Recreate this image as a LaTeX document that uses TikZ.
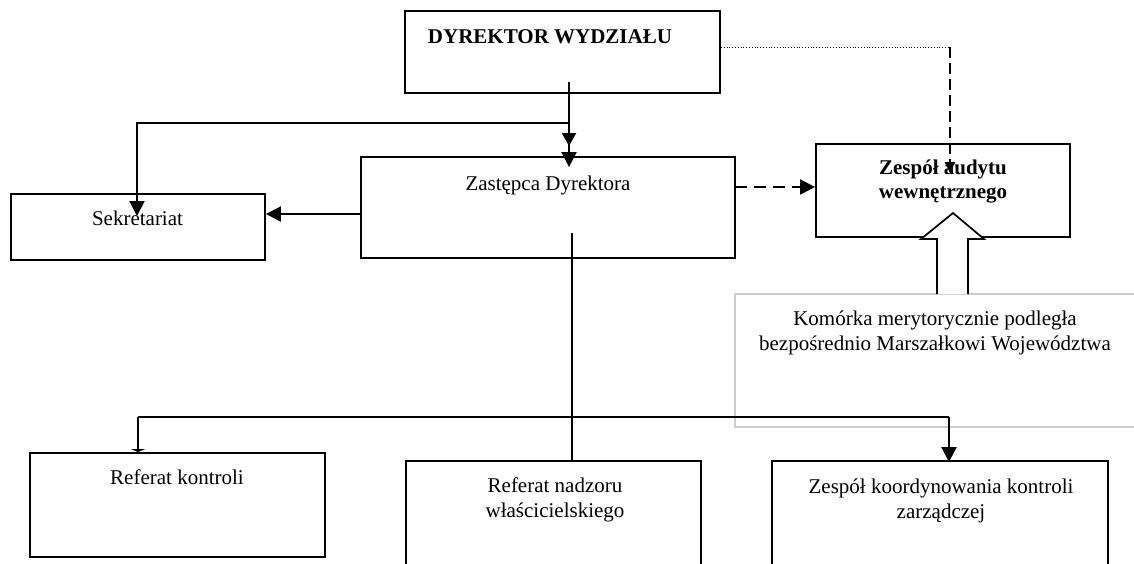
\documentclass[tikz,border=0pt]{standalone}
\usepackage{fontspec}
\setmainfont{Liberation Serif}
\usetikzlibrary{arrows.meta}
\begin{document}
\begin{tikzpicture}[x=1pt,y=-1pt,
  box/.style={draw, line width=1.9pt, inner sep=0pt},
  softbox/.style={draw=black!20, line width=1.5pt, inner sep=0pt},
  txt/.style={font=\fontsize{21}{25}\selectfont, align=center, inner sep=0pt, anchor=base},
  con/.style={line width=2pt},
  tip/.style={-{Triangle[length=15pt,width=15pt]}},
  midtip/.style={-{Triangle[length=13pt,width=14pt]}},
  smalltip/.style={-{Triangle[length=11pt,width=10pt]}},
  flattip/.style={-{Triangle[length=3pt,width=14pt]}},
  dash1/.style={dash pattern=on 12pt off 7pt},
  dash2/.style={dash pattern=on 11pt off 5pt}]
\clip (0,0) rectangle (1134,563);
\fill[white] (0,0) rectangle (1134,563);

% boxes
\node[box, minimum width=315pt, minimum height=82pt] (dyr) at (562.5,52) {};
\node[box, minimum width=374pt, minimum height=101pt] (zast) at (548,207.5) {};
\node[box, minimum width=254pt, minimum height=66pt] (sekr) at (138,227) {};
\node[box, minimum width=254pt, minimum height=93pt] (audyt) at (943,190.5) {};
\node[softbox, minimum width=405pt, minimum height=133pt] (kom) at (937.5,360.5) {};
\node[box, minimum width=295pt, minimum height=104pt] (refk) at (177.5,505) {};
\node[box, minimum width=295pt, minimum height=114pt] (refn) at (553.5,518) {};
\node[box, minimum width=336pt, minimum height=114pt] (refz) at (940,518) {};

% labels (multi-line labels sit on the baseline of their last line)
\node[txt, font=\fontsize{21}{25}\selectfont\bfseries] (dyrt) at (550,43) {DYREKTOR WYDZIAŁU};
\node[txt] (zastt) at (548,190) {Zastępca Dyrektora};
\node[txt] (sekrt) at (137.5,225) {Sekretariat};
\node[txt, font=\fontsize{21}{24}\selectfont\bfseries] (audytt) at (943,198) {Zespół audytu\\wewnętrznego};
\node[txt] (komt) at (935,350) {Komórka merytorycznie podległa\\bezpośrednio Marszałkowi Województwa};
\node[txt] (refkt) at (177,484) {Referat kontroli};
\node[txt] (refnt) at (555,517) {Referat nadzoru\\właścicielskiego};
\node[txt] (refzt) at (941,518) {Zespół koordynowania kontroli\\zarządczej};

% director to deputy, with branch to the secretariat
\coordinate (dTop) at (569,82);
\coordinate (jS) at (569,123);
\coordinate (jTip) at (569,146);
\coordinate (sTip) at (137,216);
\draw[con, tip] (dTop) -- (dTop |- zast.north) -- ++(0,11);
\draw[con, midtip] (jS) -- (jTip);
\draw[con, tip] (jS) -| (sTip);

% deputy to secretariat
\coordinate (zW) at (361,214);
\draw[con, tip] (zW) -- (zW -| sekr.east);

% deputy to audit team (dashed)
\coordinate (zE) at (735,187);
\draw[con, dash1, tip] (zE) -- (zE -| audyt.west);

% director to audit team (dotted, then dashed)
\coordinate (aTop) at (950,47);
\coordinate (aTip) at (950,173);
\draw[line width=0.8pt, dotted] (aTop -| dyr.east) -- (aTop);
\draw[con, dash2, smalltip] (aTop) -- (aTip);

% hollow arrow from the Marshal's unit
\draw[line width=1.7pt, fill=white, line join=miter]
  (937,294) -- (937,239) -- (921,239) -- (953,213) -- (984,239) -- (968,239) -- (968,294);

% deputy down to the departments
\coordinate (zB) at (572,233);
\draw[con] (zB) -- (zB |- refn.north);
\coordinate (busL) at (138,417);
\coordinate (busR) at (949,417);
\draw[con] (busL) -- (busR);
\draw[con, flattip] (busL) -- (busL |- refk.north);
\draw[con, tip] (busR) -- ([yshift=-2pt]busR |- refz.north);
\end{tikzpicture}
\end{document}
